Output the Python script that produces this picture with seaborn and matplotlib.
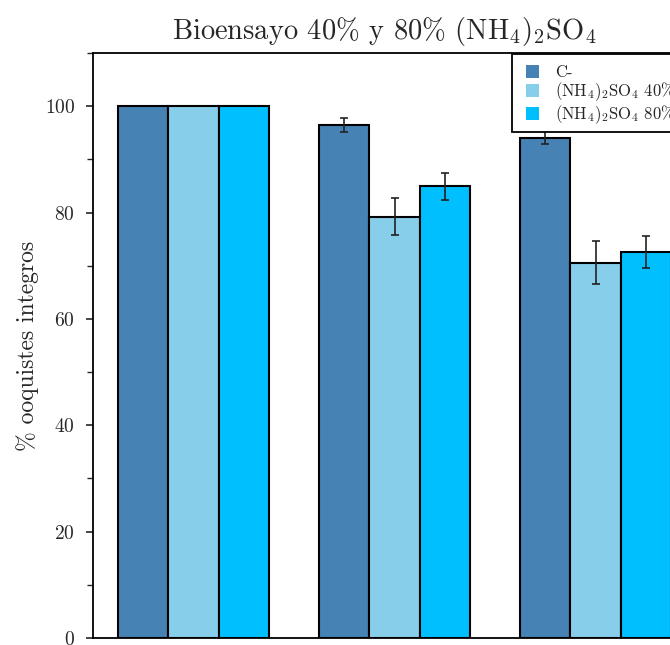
import matplotlib
matplotlib.use("Agg")
import matplotlib.pyplot as plt
import seaborn as sns
import pandas as pd
import numpy as np
from matplotlib.patches import Patch, Rectangle
from matplotlib.legend_handler import HandlerPatch
from matplotlib.ticker import MultipleLocator

categories = ["Grupo 1", "Grupo 2", "Grupo 3"]
series = ["C-", r"$\mathrm{(NH_4)_2SO_4}$ 40%", r"$\mathrm{(NH_4)_2SO_4}$ 80%"]
values_c = [100.0, 96.4, 94.1]
values_40 = [100.0, 79.2, 70.6]
values_80 = [100.0, 84.9, 72.6]
err_c = [0.0, 1.3, 1.25]
err_40 = [0.0, 3.45, 4.0]
err_80 = [0.0, 2.6, 3.0]
colors = ["#4682B4", "#87CEEB", "#00BFFF"]

sns.set_style("ticks")
plt.rcParams["font.family"] = "serif"
plt.rcParams["font.serif"] = ["cmr10", "DejaVu Serif"]
plt.rcParams["mathtext.fontset"] = "cm"
plt.rcParams["axes.unicode_minus"] = False
plt.rcParams["axes.formatter.use_mathtext"] = True

vals = [values_c, values_40, values_80]
errs = [err_c, err_40, err_80]
df = pd.DataFrame({
    "cat": [c for s in series for c in categories],
    "serie": [s for s in series for c in categories],
    "val": [v for vs in vals for v in vs],
})

fig = plt.figure(figsize=(6.7, 6.45), dpi=100)
ax = fig.add_axes([93 / 670, 7 / 645, 603 / 670, 585 / 645])

sns.barplot(data=df, x="cat", y="val", hue="serie", hue_order=series,
            order=categories, palette=colors, width=0.75, errorbar=None,
            edgecolor="black", linewidth=1.5, saturation=1, ax=ax, legend=False)

for cont, ev, vv in zip(ax.containers, errs, vals):
    xs = [p.get_x() + p.get_width() / 2 for p in cont.patches]
    for x, v, e in zip(xs, vv, ev):
        if e > 0:
            ax.errorbar(x, v, yerr=e, fmt="none", ecolor="#222222",
                        elinewidth=1.2, capsize=3, capthick=1.2, zorder=5)

ax.set_xlim(-0.5, 2.5)
ax.set_ylim(0, 110)
ax.yaxis.set_major_locator(MultipleLocator(20))
ax.yaxis.set_minor_locator(MultipleLocator(10))
ax.tick_params(axis="y", which="major", direction="out", length=5, width=1.2, labelsize=14, pad=8)
ax.tick_params(axis="y", which="minor", direction="out", length=4, width=1.0)
ax.tick_params(axis="x", which="both", length=0, labelbottom=False)
ax.set_xlabel("")
ax.set_ylabel("% ooquistes integros", fontsize=17, labelpad=4)
ax.set_title(r"Bioensayo 40% y 80% $\mathrm{(NH_4)_2SO_4}$", fontsize=20.5, pad=10, x=0.483)
for sp in ax.spines.values():
    sp.set_visible(True)
    sp.set_linewidth(1.3)
    sp.set_color("black")


def square_handle(legend, orig_handle, xdescent, ydescent, width, height, fontsize):
    return Rectangle((-xdescent + width - height, -ydescent), height, height)


handles = [Patch(facecolor=c, edgecolor="none") for c in colors]
leg = ax.legend(handles, series, loc="upper left", bbox_to_anchor=(0.695, 0.998),
                borderaxespad=0, fancybox=False, edgecolor="black", framealpha=1,
                fontsize=12, handlelength=1.2, handleheight=0.8, handletextpad=1.0,
                labelspacing=0.0, borderpad=0.4, title=" ", title_fontsize=3,
                handler_map={Patch: HandlerPatch(patch_func=square_handle)})
leg.get_frame().set_linewidth(1.3)

fig.savefig("out.png", dpi=100)
